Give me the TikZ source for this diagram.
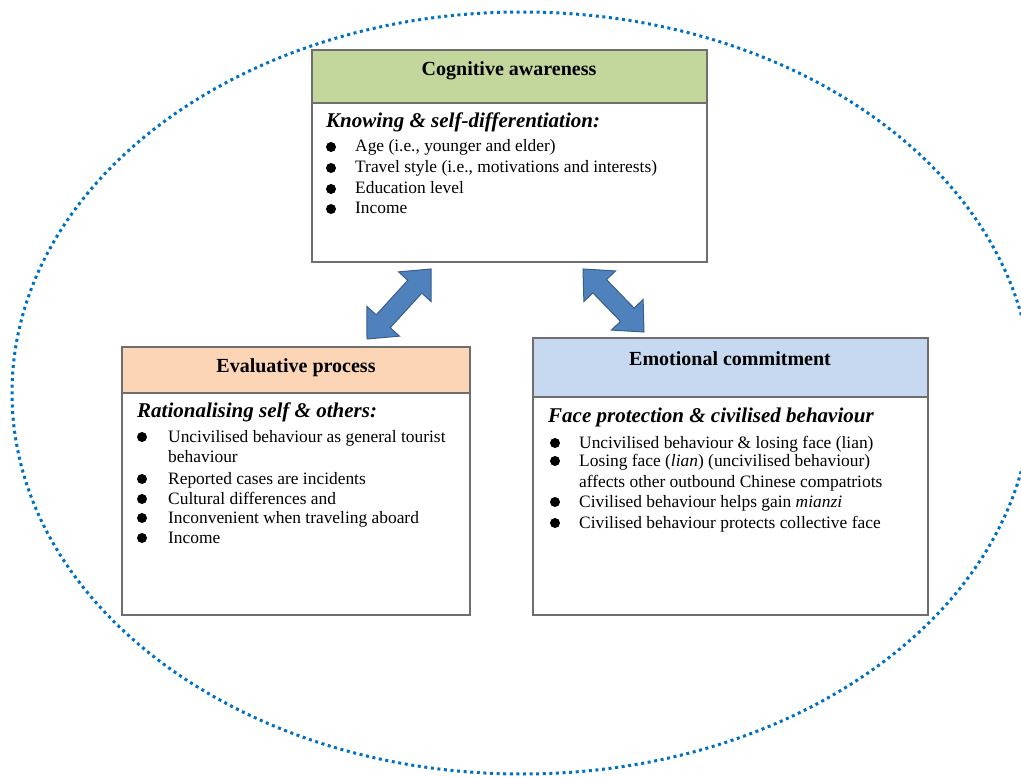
\documentclass[tikz,border=0pt]{standalone}
\usepackage{fontspec}
\setmainfont{Liberation Serif}
\usetikzlibrary{calc}
\definecolor{ringblue}{RGB}{0,112,192}
\definecolor{cogfill}{RGB}{195,214,155}
\definecolor{evafill}{RGB}{251,213,181}
\definecolor{emofill}{RGB}{198,217,241}
\definecolor{boxline}{RGB}{110,110,110}
\definecolor{arrfill}{RGB}{79,129,189}
\definecolor{arrline}{RGB}{56,93,138}
\tikzset{
 hdr/.style={draw=boxline, line width=1.5pt, inner sep=0pt, outer sep=0pt, anchor=north west},
 bodybox/.style={draw=boxline, line width=1.5pt, fill=white, inner sep=0pt, outer sep=0pt, anchor=north west},
 ttl/.style={font=\fontsize{20}{24}\selectfont\bfseries, anchor=base, inner sep=0pt},
 sub/.style={font=\fontsize{21}{25}\selectfont\bfseries\itshape, anchor=base west, inner sep=0pt},
 txt/.style={font=\fontsize{17.4}{20}\selectfont, anchor=base west, inner sep=0pt},
 bul/.style={circle, fill=black, inner sep=0pt, minimum size=10pt},
 ring/.style={draw=ringblue, line width=3pt, dash pattern=on 3pt off 3.6pt},
 dblarrow/.style={fill=arrfill, draw=arrline, line width=1pt, line join=miter},
}
\newcommand{\mydblarrow}[2]{%
 \draw[dblarrow] (#1)
 -- ($(#1)!24pt!(#2)!22pt!90:(#2)$)
 -- ($(#1)!24pt!(#2)!9.5pt!90:(#2)$)
 -- ($(#2)!24pt!(#1)!9.5pt!-90:(#1)$)
 -- ($(#2)!24pt!(#1)!22pt!-90:(#1)$)
 -- (#2)
 -- ($(#2)!24pt!(#1)!22pt!90:(#1)$)
 -- ($(#2)!24pt!(#1)!9.5pt!90:(#1)$)
 -- ($(#1)!24pt!(#2)!9.5pt!-90:(#2)$)
 -- ($(#1)!24pt!(#2)!22pt!-90:(#2)$)
 -- cycle;}
\begin{document}
\begin{tikzpicture}[x=1pt,y=-1pt]
\useasboundingbox (0,0) rectangle (1021,778);
\draw[ring] (522,393) ellipse [x radius=510, y radius=381];

% Cognitive awareness
\node[hdr, fill=cogfill, minimum width=395pt, minimum height=53pt] (cogH) at (312,50) {};
\node[bodybox, minimum width=395pt, minimum height=159pt] (cogB) at (312,103) {};
\node[ttl] (cogT) at (509,76) {Cognitive awareness};
\node[sub] (cogS) at (326,128) {Knowing \& self-differentiation:};
\node[bul] (cb1) at (331,147) {};
\node[bul] (cb2) at (331,168) {};
\node[bul] (cb3) at (331,189) {};
\node[bul] (cb4) at (331,209) {};
\node[txt] (ct1) at (355,152) {Age (i.e., younger and elder)};
\node[txt] (ct2) at (355,173) {Travel style (i.e., motivations and interests)};
\node[txt] (ct3) at (355,194) {Education level};
\node[txt] (ct4) at (355,214) {Income};

% Evaluative process
\node[hdr, fill=evafill, minimum width=348pt, minimum height=46pt] (evaH) at (122,347) {};
\node[bodybox, minimum width=348pt, minimum height=222pt] (evaB) at (122,393) {};
\node[ttl] (evaT) at (296,372) {Evaluative process};
\node[sub] (evaS) at (137,417) {Rationalising self \& others:};
\node[bul] (eb1) at (142,437) {};
\node[bul] (eb2) at (142,479) {};
\node[bul] (eb3) at (142,499) {};
\node[bul] (eb4) at (142,518) {};
\node[bul] (eb5) at (142,538) {};
\node[txt] (et1) at (168,442) {Uncivilised behaviour as general tourist};
\node[txt] (et1b) at (168,462) {behaviour};
\node[txt] (et2) at (168,484) {Reported cases are incidents};
\node[txt] (et3) at (168,504) {Cultural differences and};
\node[txt] (et4) at (168,523) {Inconvenient when traveling aboard};
\node[txt] (et5) at (168,543) {Income};

% Emotional commitment
\node[hdr, fill=emofill, minimum width=395pt, minimum height=59pt] (emoH) at (533,338) {};
\node[bodybox, minimum width=395pt, minimum height=218pt] (emoB) at (533,397) {};
\node[ttl] (emoT) at (730,365) {Emotional commitment};
\node[sub] (emoS) at (548,422) {Face protection \& civilised behaviour};
\node[bul] (mb1) at (555,443) {};
\node[bul] (mb2) at (555,461) {};
\node[bul] (mb3) at (555,502) {};
\node[bul] (mb4) at (555,523) {};
\node[txt] (mt1) at (579,448) {Uncivilised behaviour \& losing face (lian)};
\node[txt] (mt2) at (579,466) {Losing face (\textit{lian}) (uncivilised behaviour)};
\node[txt] (mt2b) at (579,487) {affects other outbound Chinese compatriots};
\node[txt] (mt3) at (579,507) {Civilised behaviour helps gain \textit{mianzi}};
\node[txt] (mt4) at (579,528) {Civilised behaviour protects collective face};

% double arrows between boxes
\coordinate (la1) at (367,339);
\coordinate (la2) at (431,269);
\coordinate (ra1) at (583,269);
\coordinate (ra2) at (644,332);
\mydblarrow{la1}{la2}
\mydblarrow{ra1}{ra2}
\end{tikzpicture}
\end{document}
